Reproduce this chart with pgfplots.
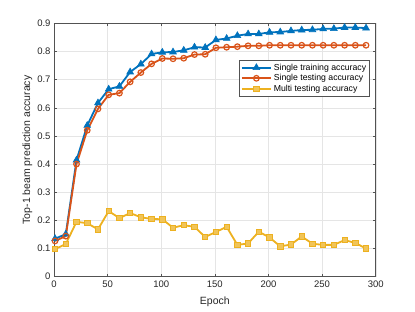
\documentclass[border=0pt]{standalone}
\usepackage{pgfplots}
\pgfplotsset{compat=1.18}
\usepackage{fontspec}
\setmainfont{Liberation Sans}
\definecolor{mblue}{rgb}{0,0.447,0.741}
\definecolor{morange}{rgb}{0.85,0.325,0.098}
\definecolor{myellow}{rgb}{0.929,0.694,0.125}
\definecolor{axgray}{rgb}{0.15,0.15,0.15}
\pgfplotstableread{
x blue orange yellow
1 0.135 0.127 0.098
11 0.151 0.144 0.116
21 0.414 0.400 0.195
31 0.537 0.520 0.190
41 0.617 0.596 0.168
51 0.666 0.646 0.233
61 0.676 0.652 0.208
71 0.727 0.692 0.226
81 0.755 0.725 0.211
91 0.791 0.756 0.205
101 0.797 0.775 0.204
111 0.798 0.774 0.174
121 0.804 0.776 0.183
131 0.815 0.789 0.177
141 0.814 0.790 0.141
151 0.841 0.813 0.159
161 0.846 0.815 0.177
171 0.856 0.817 0.113
181 0.862 0.820 0.118
191 0.862 0.820 0.160
201 0.868 0.822 0.139
211 0.869 0.822 0.108
221 0.873 0.822 0.114
231 0.876 0.822 0.143
241 0.877 0.822 0.117
251 0.880 0.822 0.113
261 0.881 0.822 0.113
271 0.885 0.822 0.130
281 0.885 0.822 0.120
291 0.883 0.822 0.100
}\datatable
\begin{document}
\begin{tikzpicture}
\begin{axis}[
  name=ax,
  scale only axis,
  width=321.7pt, height=253.4pt,
  xmin=0, xmax=300, ymin=0, ymax=0.9,
  xtick={0,50,...,300},
  ytick={0,0.1,...,0.9},
  yticklabels={0,0.1,0.2,0.3,0.4,0.5,0.6,0.7,0.8,0.9},
  /pgf/number format/assume math mode=true,
  tick label style={font=\fontsize{9.5}{11}\selectfont, text=axgray},
  label style={font=\fontsize{10.5}{12}\selectfont, text=axgray},
  xlabel={Epoch},
  ylabel={Top-1 beam prediction accuracy},
  xticklabel style={yshift=-1pt},
  xlabel style={yshift=-2pt},
  ylabel style={yshift=-2pt},
  grid=major,
  major grid style={color=black!10, line width=0.4pt},
  axis line style={color=axgray!80, line width=0.5pt},
  tick style={color=axgray!80, line width=0.5pt},
  tick align=inside,
  major tick length=3pt,
  xtick pos=both, ytick pos=both,
  legend style={at={(0.982,0.855)}, anchor=north east, draw=axgray!80, line width=0.5pt,
    fill=white, font=\fontsize{8.7}{10}\selectfont, row sep=-1.2pt, inner sep=1.5pt},
  legend cell align=left,
  legend image code/.code={\draw[mark repeat=2,mark phase=2] plot coordinates {(0pt,0pt) (14.5pt,0pt) (29pt,0pt)};},
]
\addplot[color=mblue, line width=1.8pt, mark=triangle*, mark size=3.9pt, mark options={fill=mblue, line width=0.6pt}] table[x=x,y=blue] {\datatable};
\addlegendentry{Single training accuracy}
\addplot[color=morange, line width=1.8pt, mark=o, mark size=2.8pt, mark options={line width=1.2pt}] table[x=x,y=orange] {\datatable};
\addlegendentry{Single testing accuracy}
\addplot[color=myellow, line width=1.8pt, mark=square*, mark size=2.7pt, mark options={fill=myellow!75!white, line width=0.8pt}] table[x=x,y=yellow] {\datatable};
\addlegendentry{Multi testing accuracy}
\end{axis}
\pgfresetboundingbox
\path[use as bounding box] (ax.south west) ++(-54pt,-35.3pt) rectangle ++(415pt,312pt);
\end{tikzpicture}
\end{document}
